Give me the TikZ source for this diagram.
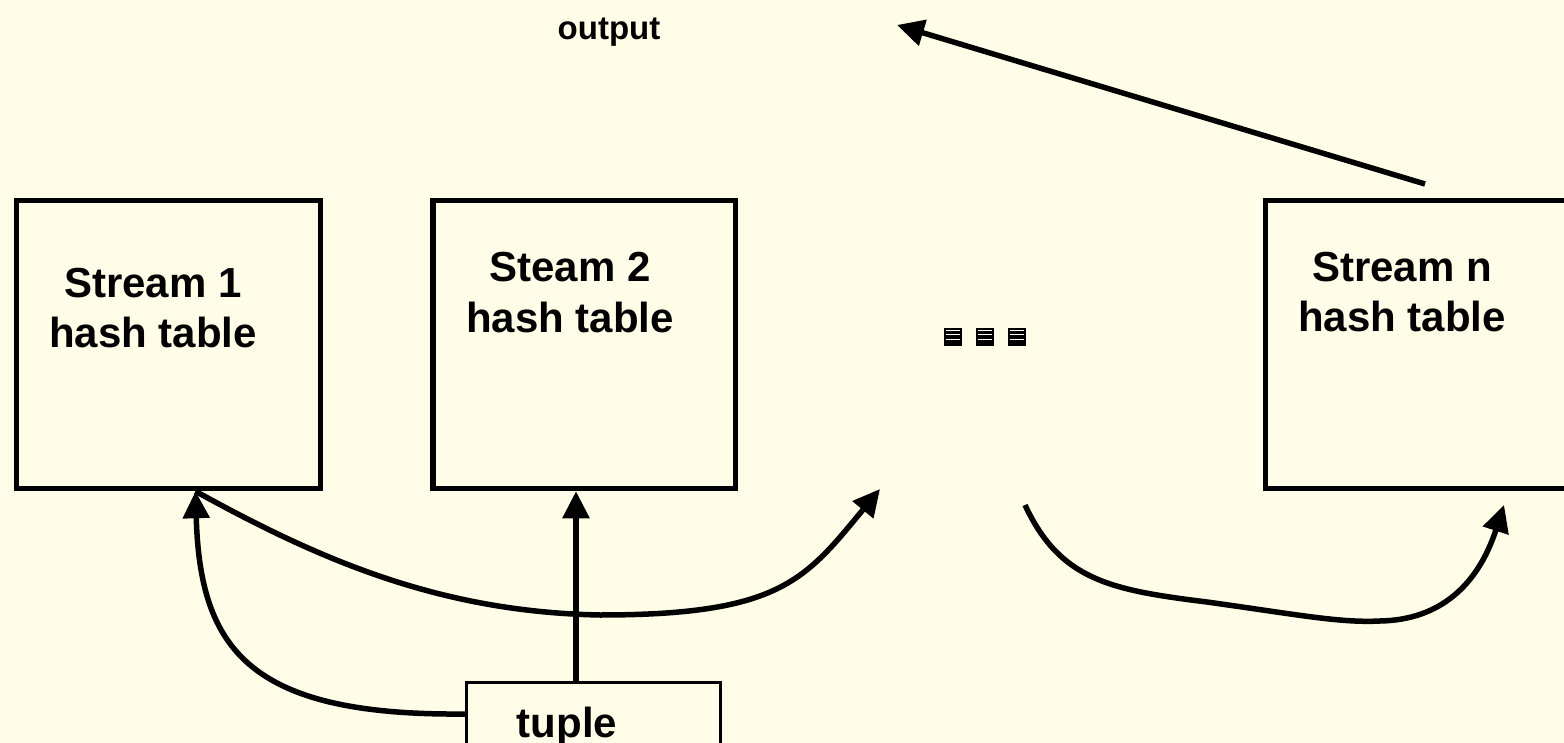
\documentclass[tikz,border=0pt]{standalone}
\usepackage{fontspec}
\setmainfont{Liberation Sans}
\usetikzlibrary{arrows.meta}
\definecolor{paper}{RGB}{255,253,232}
\begin{document}
\begin{tikzpicture}[x=1pt,y=-1pt,
  tablebox/.style={draw=black, line width=5.5pt, inner sep=0pt},
  tuplebox/.style={draw=black, line width=3pt, inner sep=0pt},
  lbl/.style={font=\fontsize{42}{51}\selectfont\bfseries, align=center, anchor=base, inner sep=0pt},
  conn/.style={line width=5.5pt, -{Triangle[length=27pt,width=26pt]}},
  dotbox/.style={fill=black},
  dotline/.style={draw=white, line width=1pt}]
  % page
  \clip (0,0) rectangle (1564,743);
  \fill[paper] (0,0) rectangle (1564,743);

  % hash tables and the incoming tuple
  \node[tablebox, minimum width=304pt, minimum height=288pt] (b1) at (168.5,344.5) {};
  \node[tablebox, minimum width=302.5pt, minimum height=288pt] (b2) at (584.25,344.5) {};
  \node[tablebox, minimum width=314.5pt, minimum height=288pt] (bn) at (1422.75,344.5) {};
  \node[tuplebox, minimum width=253.5pt, minimum height=64pt] (tu) at (593.25,714) {};

  % labels (anchored on the baseline of their last line)
  \node[lbl] (t1) at (153,348) {Stream 1\\hash table};
  \node[lbl] (t2) at (570,333) {Steam 2\\hash table};
  \node[lbl] (tn) at (1402,332) {Stream n\\hash table};
  \node[lbl] (tt) at (567,737) {tuple};
  \node[font=\fontsize{33}{40}\selectfont\bfseries, anchor=base, inner sep=0pt] (out) at (609,40) {output};

  % free ends of the probe arrows
  \coordinate (c1) at (880,489);
  \coordinate (c2) at (1025,505);
  \coordinate (c3) at (1504,505);
  \coordinate (ot) at (1425,184);
  \coordinate (oh) at (897,25);

  % tuple inserted into stream 2, probing stream 1
  \draw[conn] ([xshift=-17.25pt]tu.north) -- ([xshift=-8.25pt]b2.south);
  \draw[conn] (tu.west) .. controls (250,716) and (200,650) .. ([xshift=27pt]b1.south);
  \draw[conn] ([xshift=27pt]b1.south) .. controls (320,560) and (440,612) .. (600,615)
              .. controls (780,615) and (805,580) .. (c1);
  \draw[conn] (c2) .. controls (1060,580) and (1110,590) .. (1207,602)
              .. controls (1300,615) and (1340,623) .. (1380,621)
              .. controls (1440,620) and (1478,585) .. (c3);
  \draw[conn] (ot) -- (oh);

  % ellipsis marks between the tables
  \foreach \x in {944,976,1008} {
    \fill[dotbox] (\x,328) rectangle ++(18,18);
    \foreach \y in {330.5,335,339.5}
      \draw[dotline] (\x+2,\y) -- (\x+16,\y);
  }
\end{tikzpicture}
\end{document}
